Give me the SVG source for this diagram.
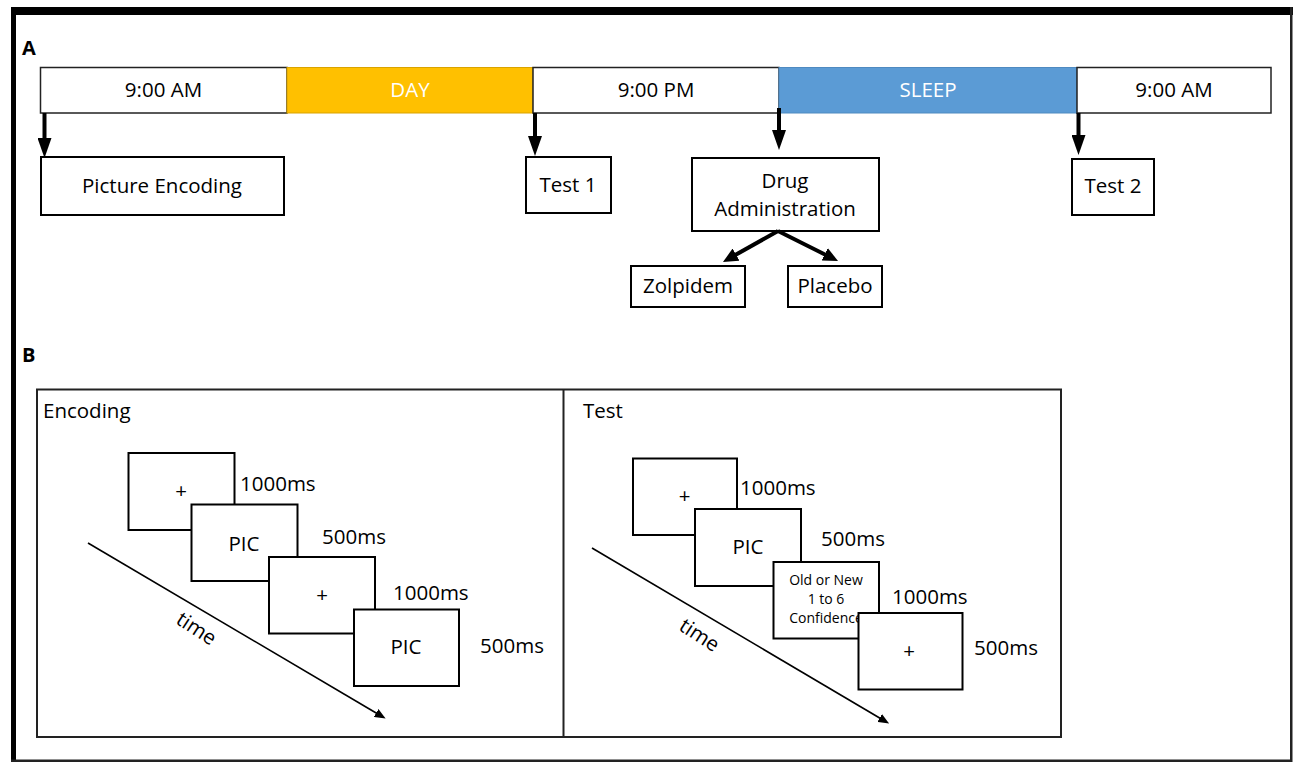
<svg xmlns="http://www.w3.org/2000/svg" width="1294" height="764" viewBox="0 0 1294 764">
<style>
.t{font-family:"Open Sans","Liberation Sans",sans-serif;font-size:20.5px;fill:#000;text-anchor:middle}
.tl{font-family:"Open Sans","Liberation Sans",sans-serif;font-size:20.5px;fill:#000}
.w{fill:#fff}
.s{font-size:14px}
.lab{font-family:"Open Sans","Liberation Sans",sans-serif;font-size:20px;font-weight:bold;fill:#000}
.bx{fill:#fff;stroke:#000;stroke-width:2}
.tb{stroke:#222;stroke-width:1.5}
.ar{stroke:#000;stroke-width:4;fill:none}
.ta{stroke:#000;stroke-width:1.6;fill:none}
</style>
<defs>
<marker id="big" viewBox="0 0 20 14" markerWidth="20" markerHeight="14" refX="2" refY="7" orient="auto" markerUnits="userSpaceOnUse"><path d="M0,0 L20,7 L0,14 z" fill="#000"/></marker>
<marker id="mid" viewBox="0 0 15 14" markerWidth="15" markerHeight="14" refX="2" refY="7" orient="auto" markerUnits="userSpaceOnUse"><path d="M0,0 L15,7 L0,14 z" fill="#000"/></marker>
<marker id="sm" viewBox="0 0 11 9" markerWidth="11" markerHeight="9" refX="1" refY="4.5" orient="auto" markerUnits="userSpaceOnUse"><path d="M0,0 L11,4.5 L0,9 z" fill="#000"/></marker>
</defs>
<rect width="1294" height="764" fill="#fff"/>
<g id="frame">
<rect x="11" y="7" width="1282" height="8" fill="#000"/>
<rect x="11" y="7" width="5" height="755" fill="#000"/>
<rect x="1290" y="7" width="2.5" height="755" fill="#222"/>
<rect x="11" y="759.5" width="1281" height="2.5" fill="#222"/>
</g>
<text class="lab" x="22" y="55">A</text>
<text class="lab" x="22" y="362">B</text>
<g id="timeline">
<g id="t-am1"><rect class="tb" x="40.5" y="67.5" width="246.5" height="45.5" fill="#fff"/><text class="t" x="163.5" y="97">9:00 AM</text></g>
<g id="t-day"><rect x="287" y="67.5" width="246" height="45.5" fill="#FFC000" stroke="#D9A300" stroke-width="1"/><text class="t w" x="410" y="97">DAY</text></g>
<g id="t-pm"><rect class="tb" x="533" y="67.5" width="246" height="45.5" fill="#fff"/><text class="t" x="656" y="97">9:00 PM</text></g>
<g id="t-sleep"><rect x="779" y="67.5" width="298" height="45.5" fill="#5B9BD5" stroke="#4F8AC0" stroke-width="1"/><text class="t w" x="928" y="97">SLEEP</text></g>
<g id="t-am2"><rect class="tb" x="1077" y="67.5" width="194" height="45.5" fill="#fff"/><text class="t" x="1174" y="97">9:00 AM</text></g>
</g>
<g id="encodingA"><rect class="bx" x="41" y="157" width="243" height="58"/><text class="t" x="162" y="193">Picture Encoding</text></g>
<g id="test1"><rect class="bx" x="526" y="157" width="85" height="56"/><text class="t" x="568" y="192">Test 1</text></g>
<g id="drug"><rect class="bx" x="692" y="158" width="187" height="73"/><text class="t" x="785" y="188">Drug</text><text class="t" x="785" y="216">Administration</text></g>
<g id="zolpidem"><rect class="bx" x="631" y="266" width="114" height="41"/><text class="t" x="688" y="293">Zolpidem</text></g>
<g id="placebo"><rect class="bx" x="788" y="266" width="94" height="41"/><text class="t" x="835" y="293">Placebo</text></g>
<g id="test2"><rect class="bx" x="1072" y="159" width="82" height="56"/><text class="t" x="1113" y="193">Test 2</text></g>
<g id="connectors">
<line class="ar" x1="44.5" y1="113" x2="44.5" y2="140" marker-end="url(#big)"/>
<line class="ar" x1="535" y1="113" x2="535" y2="138" marker-end="url(#big)"/>
<line class="ar" x1="779" y1="108" x2="779" y2="132" marker-end="url(#big)"/>
<line class="ar" x1="1078.5" y1="113" x2="1078.5" y2="137" marker-end="url(#big)"/>
<line class="ar" x1="778" y1="231" x2="734.3" y2="255.6" marker-end="url(#mid)"/>
<line class="ar" x1="778" y1="231" x2="826.4" y2="255.2" marker-end="url(#mid)"/>
<line class="ta" x1="88" y1="543" x2="377" y2="713.5" marker-end="url(#sm)"/>
<line class="ta" x1="592" y1="548" x2="880.5" y2="718.5" marker-end="url(#sm)"/>
</g>
<g id="panelB">
<rect x="37" y="389.5" width="1024" height="347.5" fill="none" stroke="#222" stroke-width="2"/>
<line x1="563.5" y1="389.5" x2="563.5" y2="737" stroke="#222" stroke-width="2"/>
<text class="tl" x="43" y="418">Encoding</text>
<text class="tl" x="583" y="418">Test</text>
</g>
<g id="enc-seq">
<g id="e1"><rect class="bx" x="128.5" y="453" width="106" height="77"/><text class="t" x="181" y="498">+</text></g>
<text class="tl" x="240" y="491">1000ms</text>
<g id="e2"><rect class="bx" x="191.5" y="504.5" width="106" height="76.5"/><text class="t" x="244" y="551">PIC</text></g>
<text class="tl" x="322" y="544">500ms</text>
<g id="e3"><rect class="bx" x="269" y="557" width="106" height="76.5"/><text class="t" x="322" y="602">+</text></g>
<text class="tl" x="393" y="600">1000ms</text>
<g id="e4"><rect class="bx" x="354" y="609.5" width="105" height="76.5"/><text class="t" x="406" y="654">PIC</text></g>
<text class="tl" x="480" y="653">500ms</text>
<text class="t" x="0" y="0" transform="translate(196.5,628.5) rotate(33) translate(0,7)">time</text>
</g>
<g id="test-seq">
<g id="s1"><rect class="bx" x="633" y="458.5" width="104" height="76.5"/><text class="t" x="684.5" y="503">+</text></g>
<text class="tl" x="740" y="495">1000ms</text>
<g id="s2"><rect class="bx" x="695" y="509" width="106" height="77"/><text class="t" x="748" y="554">PIC</text></g>
<text class="tl" x="821" y="546">500ms</text>
<g id="s3"><rect class="bx" x="773.5" y="562" width="105.5" height="76.5"/><text class="t s" x="826" y="585">Old or New</text><text class="t s" x="826" y="604">1 to 6</text><text class="t s" x="826" y="623">Confidence</text></g>
<text class="tl" x="892" y="604">1000ms</text>
<g id="s4"><rect class="bx" x="858.5" y="613" width="104" height="76.5"/><text class="t" x="909" y="658">+</text></g>
<text class="tl" x="974" y="655">500ms</text>
<text class="t" x="0" y="0" transform="translate(699.5,635) rotate(33) translate(0,7)">time</text>
</g>
</svg>
